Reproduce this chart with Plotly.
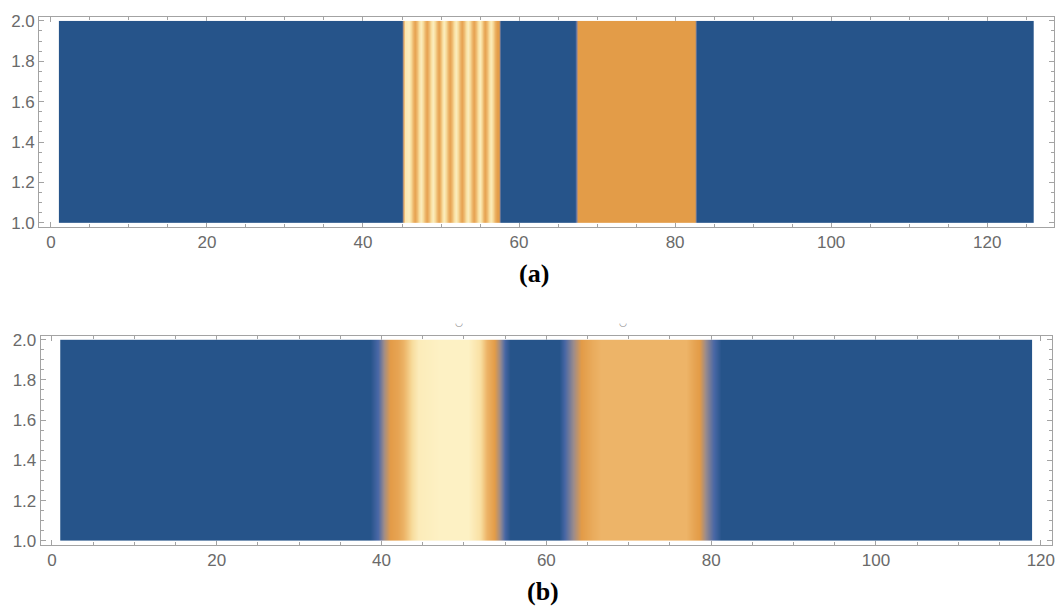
import plotly.graph_objects as go

W, H = 1063, 614

# Panel (a): intensity profile along x (constant in y between 1 and 2)
a_x = [1, 45.0, 45.4, 45.9, 46.65, 47.4, 48.15, 48.9, 49.65, 50.4, 51.15, 51.9,
       52.65, 53.4, 54.15, 54.9, 55.65, 56.4, 57.1, 57.35, 57.65,
       67.15, 67.5, 82.45, 82.8, 126]
a_v = [0, 0, 0.9, 0.97, 0.48, 0.97, 0.48, 0.97, 0.48, 0.97, 0.48, 0.97,
       0.48, 0.97, 0.48, 0.97, 0.48, 0.95, 0.45, 0.42, 0,
       0, 0.42, 0.42, 0, 0]

# Panel (b): intensity profile along x
b_x = [1, 38.6, 39.6, 40.3, 41.0, 42.0, 43.2, 44.5, 47.0, 50.5, 51.8, 52.8,
       53.6, 54.3, 55.0, 55.6, 61.6, 62.3, 63.2, 64.2, 65.5, 66.5, 77.0,
       77.8, 78.5, 79.3, 80.2, 81.2, 119]
b_v = [0, 0, 0.13, 0.3, 0.42, 0.5, 0.72, 0.95, 1.0, 1.0, 0.85, 0.6,
       0.45, 0.3, 0.1, 0, 0, 0.13, 0.28, 0.42, 0.55, 0.62, 0.62,
       0.5, 0.42, 0.28, 0.13, 0, 0]

y_rows = [1, 2]
x_ticks = [0, 20, 40, 60, 80, 100, 120]
y_ticks = [1.0, 1.2, 1.4, 1.6, 1.8, 2.0]

colorscale = [
    [0.00, "#26548A"],
    [0.12, "#4A68A6"],
    [0.28, "#9C8C8C"],
    [0.42, "#E39C48"],
    [0.62, "#EDB468"],
    [0.80, "#F8DC9C"],
    [1.00, "#FDF1C4"],
]

FRAME = "#a3a3a3"
LABEL = "#6a6a6a"


def pad(lo, hi, frac=0.02):
    d = (hi - lo) * frac
    return [lo - d, hi + d]


def px_dom_x(left, right):
    return [left / W, right / W]


def px_dom_y(top, bottom):
    return [1 - bottom / H, 1 - top / H]


def sub_domain(dom, rng, lo, hi):
    d0, d1 = dom
    r0, r1 = rng
    f = lambda v: d0 + (v - r0) / (r1 - r0) * (d1 - d0)
    return [f(lo), f(hi)]


def frame_axis(dom, rng, anchor, is_x):
    ax = dict(
        domain=dom, range=rng, anchor=anchor,
        showline=True, linecolor=FRAME, linewidth=1, mirror="ticks",
        ticks="inside", ticklen=5, tickwidth=1, tickcolor=FRAME,
        showgrid=False, zeroline=False, fixedrange=True,
        tickfont=dict(family="Liberation Sans", size=17, color=LABEL),
    )
    if is_x:
        ax.update(tickmode="array", tickvals=x_ticks,
                  ticktext=[str(t) for t in x_ticks],
                  minor=dict(ticks="inside", ticklen=3, dtick=5, tick0=0,
                             tickcolor=FRAME, showgrid=False))
    else:
        ax.update(tickmode="array", tickvals=y_ticks,
                  ticktext=[f"{t:.1f}" for t in y_ticks],
                  minor=dict(ticks="inside", ticklen=3, dtick=0.05, tick0=0,
                             tickcolor=FRAME, showgrid=False))
    return ax


def data_axis(dom, rng, anchor):
    return dict(domain=dom, range=rng, anchor=anchor, visible=False,
                showgrid=False, zeroline=False, fixedrange=True)


fig = go.Figure()
layout = {}

panels = [
    # (profile x, profile v, frame box in px: left, right, top, bottom, axis ids)
    (a_x, a_v, (39.3, 1056.5, 12.0, 226.0), ("", "2")),
    (b_x, b_v, (40.8, 1055.0, 336.6, 549.8), ("3", "4")),
]

for xs, vs, (l, r, t, b), (fid, did) in panels:
    xr = pad(xs[0], xs[-1])
    yr = pad(y_rows[0], y_rows[-1])
    fdx = px_dom_x(l, r)
    fdy = px_dom_y(t, b)
    ddx = sub_domain(fdx, xr, xs[0], xs[-1])
    ddy = sub_domain(fdy, yr, y_rows[0], y_rows[-1])

    layout["xaxis" + fid] = frame_axis(fdx, xr, "y" + fid, True)
    layout["yaxis" + fid] = frame_axis(fdy, yr, "x" + fid, False)
    layout["xaxis" + did] = data_axis(ddx, [xs[0], xs[-1]], "y" + did)
    layout["yaxis" + did] = data_axis(ddy, [y_rows[0], y_rows[-1]], "x" + did)

    fig.add_trace(go.Scatter(x=[], y=[], xaxis="x" + fid, yaxis="y" + fid,
                             showlegend=False, hoverinfo="skip"))
    fig.add_trace(go.Heatmap(
        x=xs, y=y_rows, z=[vs for _ in y_rows],
        xaxis="x" + did, yaxis="y" + did,
        colorscale=colorscale, zmin=0, zmax=1, zsmooth="best",
        showscale=False, hoverinfo="skip",
    ))


def note(text, px, py, family, size, color):
    return dict(text=text, x=px / W, y=1 - py / H, xref="paper", yref="paper",
                xanchor="center", yanchor="middle", showarrow=False,
                font=dict(family=family, size=size, color=color))


annotations = [
    note("<b>(a)</b>", 536, 273, "Liberation Serif", 26, "black"),
    note("<b>(b)</b>", 545, 597, "Liberation Serif", 26, "black"),
    note("◡", 460, 324, "DejaVu Sans", 9, "#8a8a8a"),
    note("◡", 625, 324, "DejaVu Sans", 9, "#8a8a8a"),
]

fig.update_layout(
    width=W, height=H,
    margin=dict(l=0, r=0, t=0, b=0),
    paper_bgcolor="white", plot_bgcolor="white",
    showlegend=False,
    annotations=annotations,
    **layout,
)

fig.write_html("out.html", config={"displayModeBar": False})
